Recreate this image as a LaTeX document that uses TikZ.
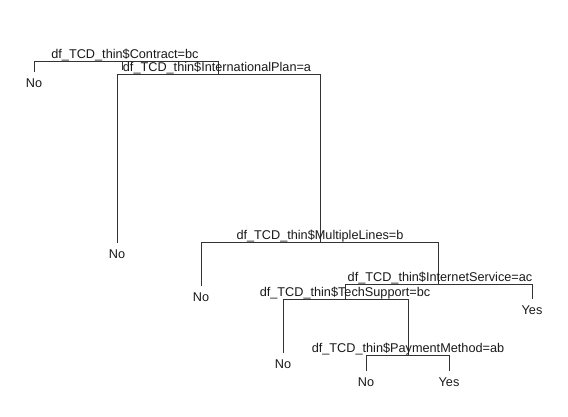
\documentclass[tikz,border=0pt]{standalone}
\usepackage{fontspec}
\setmainfont{Liberation Sans}
\begin{document}
\begin{tikzpicture}[x=1pt,y=-1pt,
  splitlabel/.style={anchor=base, inner sep=0pt, font=\fontsize{12.7}{15}\selectfont, text=black!90},
  leaflabel/.style={anchor=north, inner sep=0pt, yshift=-6.5pt, font=\fontsize{12.7}{15}\selectfont, text=black!90},
  branch/.style={line width=0.9pt, draw=black!80}]
\useasboundingbox (0,0) rectangle (568,417);
% split nodes (stem points)
\coordinate (root) at (125,61);
\coordinate (intl) at (218,74);
\coordinate (ml) at (320,242);
\coordinate (is) at (438,284);
\coordinate (ts) at (345,299);
\coordinate (pm) at (408,355);
% leaf ends
\coordinate (l1) at (34,72);
\coordinate (l2) at (117,243);
\coordinate (l3) at (201,286);
\coordinate (l4) at (283,353);
\coordinate (l5) at (366,371);
\coordinate (l6) at (449,371);
\coordinate (l7) at (532,299);
\coordinate (rs1) at (122,61);
\coordinate (rs2) at (122,70);
% branches
\draw[branch] (root) -| (l1);
\draw[branch] (root) -| (intl);
\draw[branch] (rs1) -- (rs2);
\draw[branch] (intl) -| (l2);
\draw[branch] (intl) -| (ml);
\draw[branch] (ml) -| (l3);
\draw[branch] (ml) -| (is);
\draw[branch] (is) -| (ts);
\draw[branch] (is) -| (l7);
\draw[branch] (ts) -| (l4);
\draw[branch] (ts) -| (pm);
\draw[branch] (pm) -| (l5);
\draw[branch] (pm) -| (l6);
% split labels
\node[splitlabel] (troot) at (125,58.5) {df\_TCD\_thin\$Contract=bc};
\node[splitlabel] (tintl) at (217,71.5) {df\_TCD\_thin\$InternationalPlan=a};
\node[splitlabel] (tml) at (320,239.5) {df\_TCD\_thin\$MultipleLines=b};
\node[splitlabel] (tis) at (440,281.5) {df\_TCD\_thin\$InternetService=ac};
\node[splitlabel] (tts) at (345,296.5) {df\_TCD\_thin\$TechSupport=bc};
\node[splitlabel] (tpm) at (408,352.5) {df\_TCD\_thin\$PaymentMethod=ab};
% leaf labels
\node[leaflabel] (n1) at (l1) {No};
\node[leaflabel] (n2) at (l2) {No};
\node[leaflabel] (n3) at (l3) {No};
\node[leaflabel] (n4) at (l4) {No};
\node[leaflabel] (n5) at (l5) {No};
\node[leaflabel] (n6) at (l6) {Yes};
\node[leaflabel] (n7) at (l7) {Yes};
\end{tikzpicture}
\end{document}
